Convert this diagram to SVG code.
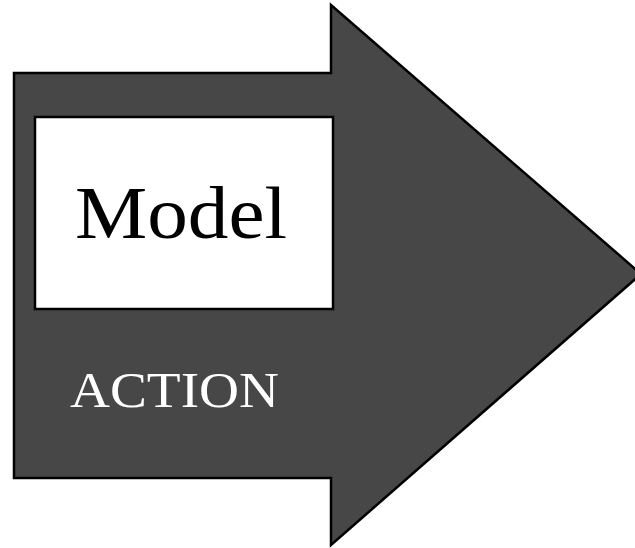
<svg xmlns="http://www.w3.org/2000/svg" width="635" height="548" viewBox="0 0 635 548">
<style>
.arrow{fill:#474747;stroke:#000;stroke-width:2.5;stroke-linejoin:miter}
.box{fill:#fff;stroke:#000;stroke-width:2.5}
.t{font-family:"Liberation Serif","Times New Roman",serif}
</style>
<g id="action-arrow">
<path class="arrow" d="M14,73 L331,73 L331,5 L641,274 L331,545 L331,478 L14,478 Z"/>
<text class="t" x="70" y="407" font-size="50" fill="#fff" textLength="209" lengthAdjust="spacingAndGlyphs">ACTION</text>
</g>
<g id="model">
<rect class="box" x="35" y="117" width="298" height="192"/>
<text class="t" x="75" y="238" font-size="75" fill="#000" textLength="212" lengthAdjust="spacingAndGlyphs">Model</text>
</g>
</svg>
